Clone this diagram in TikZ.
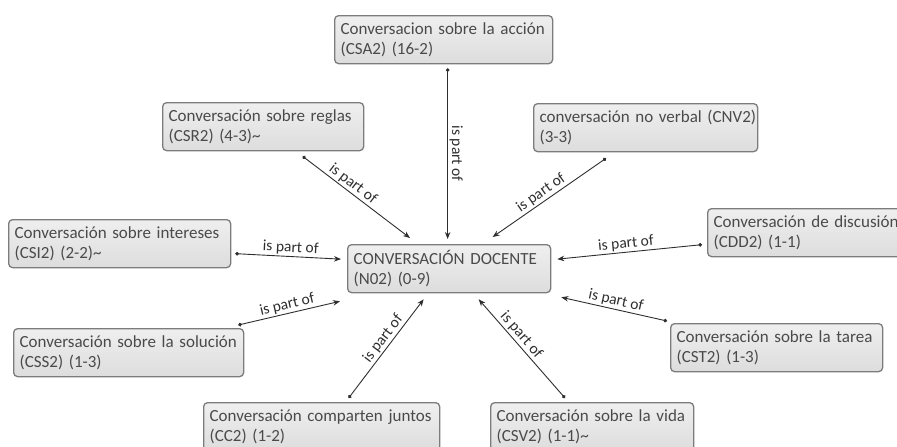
\documentclass[tikz,border=0pt]{standalone}
\usepackage{fontspec}
\setmainfont{Carlito}
\usetikzlibrary{arrows.meta}

\definecolor{boxline}{HTML}{7C7C7C}
\definecolor{boxtop}{HTML}{EFEFEF}
\definecolor{boxbot}{HTML}{DDDDDD}
\definecolor{boxtext}{HTML}{4A4A4A}
\definecolor{linkcol}{HTML}{2E2E2E}

\tikzset{
  concept/.style={draw=boxline, line width=1.3pt, rounded corners=4pt,
    top color=boxtop, bottom color=boxbot, anchor=north west,
    align=left, inner xsep=6pt, inner ysep=0pt, minimum height=48pt,
    font=\fontsize{17}{20}\selectfont, text=boxtext},
  link/.style={draw=linkcol, line width=0.9pt,
    {Circle[length=3.6pt]}-{Stealth[length=7pt,width=5.5pt]}},
  rel/.style={font=\fontsize{15.5}{17}\selectfont, text=linkcol,
    inner sep=1.5pt, above}
}

\begin{document}
\begin{tikzpicture}[x=1pt,y=-1pt]
\useasboundingbox (0,0) rectangle (897,447);

% concepts
\node[concept, text width=206pt] (csa) at (334,15) {Conversacion sobre la acción\\(CSA2) (16-2)};
\node[concept, text width=189pt] (csr) at (162,102) {Conversación sobre reglas\\(CSR2) (4-3)\textasciitilde};
\node[concept, text width=212pt] (cnv) at (533,103) {\mbox{conversación no verbal (CNV2)}\\(3-3)};
\node[concept, text width=210pt] (csi) at (8,219) {Conversación sobre intereses\\(CSI2) (2-2)\textasciitilde};
\node[concept, text width=191pt] (n02) at (347,244) {CONVERSACIÓN DOCENTE\\(N02) (0-9)};
\node[concept, text width=198pt] (cdd) at (707,208) {Conversación de discusión\\(CDD2) (1-1)};
\node[concept, text width=218pt] (css) at (13,328) {Conversación sobre la solución\\(CSS2) (1-3)};
\node[concept, text width=200pt] (cst) at (670,323) {Conversación sobre la tarea\\(CST2) (1-3)};
\node[concept, text width=224pt] (cc) at (203,402) {\mbox{Conversación comparten juntos}\\(CC2) (1-2)};
\node[concept, text width=191pt] (csv) at (490,402) {Conversación sobre la vida\\(CSV2) (1-1)\textasciitilde};

% relations towards the central concept
\draw[link] ([shift={(4,4)}]csa.south) -- node[rel, pos=0.5, rotate=-90] {is part of} ([shift={(-1.5,-5)}]n02.north);
\draw[link] ([shift={(39.5,5)}]csr.south) -- node[rel, pos=0.42, sloped] {is part of} ([shift={(63,-6)}]n02.north west);
\draw[link] ([shift={(73,6)}]cnv.south west) -- node[rel, pos=0.53, sloped] {is part of} ([shift={(43.5,-7)}]n02.north);
\draw[link] ([shift={(4,10)}]csi.east) -- node[rel, pos=0.52, sloped] {is part of} ([shift={(-6,-9.5)}]n02.west);
\draw[link] ([shift={(-5,12)}]cdd.west) -- node[rel, pos=0.52, sloped] {is part of} ([shift={(6,-9.5)}]n02.east);
\draw[link] ([shift={(-6,-3)}]css.north east) -- node[rel, pos=0.5, sloped] {is part of} ([shift={(-7,8)}]n02.south west);
\draw[link] ([shift={(-3,-2)}]cst.north west) -- node[rel, pos=0.5, sloped] {is part of} ([shift={(10,4)}]n02.south east);
\draw[link] ([shift={(27,-4)}]cc.north) -- node[rel, pos=0.55, sloped] {is part of} ([shift={(-25.5,6)}]n02.south);
\draw[link] ([shift={(75,-4)}]csv.north west) -- node[rel, pos=0.58, sloped] {is part of} ([shift={(29.5,6)}]n02.south);
\end{tikzpicture}
\end{document}
